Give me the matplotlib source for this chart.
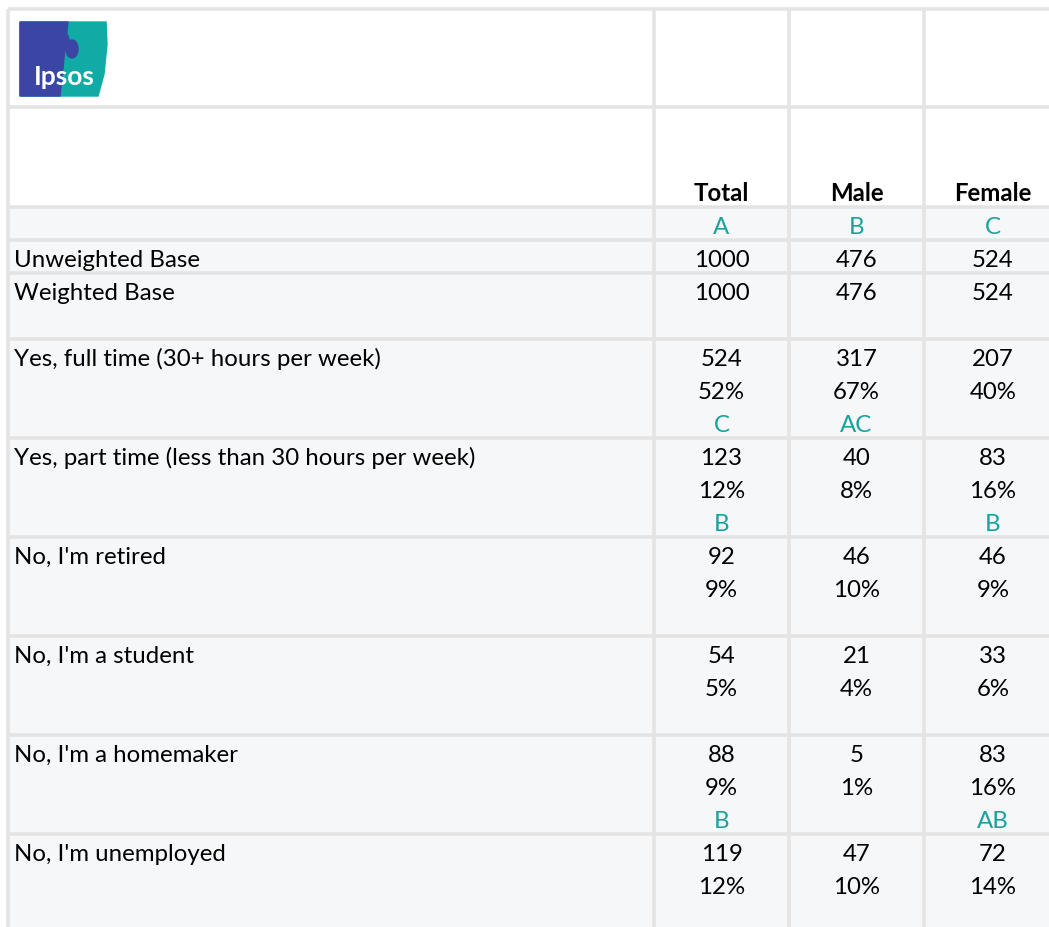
import matplotlib.pyplot as plt
from matplotlib.patches import Rectangle, Polygon, Ellipse

# table data
columns = ['Total', 'Male', 'Female']
col_letters = ['A', 'B', 'C']
unweighted_base = [1000, 476, 524]
weighted_base = [1000, 476, 524]
row_labels = [
    'Yes, full time (30+ hours per week)',
    'Yes, part time (less than 30 hours per week)',
    "No, I'm retired",
    "No, I'm a student",
    "No, I'm a homemaker",
    "No, I'm unemployed",
]
counts = [[524, 317, 207], [123, 40, 83], [92, 46, 46],
          [54, 21, 33], [88, 5, 83], [119, 47, 72]]
pcts = [[52, 67, 40], [12, 8, 16], [9, 10, 9],
        [5, 4, 6], [9, 1, 16], [12, 10, 14]]
sig = [['C', 'AC', ''], ['B', '', 'B'], ['', '', ''],
       ['', '', ''], ['B', '', 'AB'], ['', '', '']]

teal = '#17A39B'
grid = '#E4E4E4'
shade = '#F6F7F9'
plt.rcParams['font.family'] = ['Lato', 'DejaVu Sans']
fs = 17.3

fig = plt.figure(figsize=(10.49, 9.28), dpi=100)
ax = fig.add_axes([0, 0, 1, 1])
ax.set_xlim(0, 1049)
ax.set_ylim(928, 0)
ax.axis('off')

# layout (pixels)
xs = [8, 654, 789, 924, 1062]
centers = [(xs[i] + xs[i + 1]) / 2 for i in range(1, 4)]
row_edges = [10, 108, 208, 241, 274, 340]
for i in range(len(row_labels)):
    row_edges.append(row_edges[-1] + 99)
lh = 33
base = 26  # baseline offset from row top

# background
ax.add_patch(Rectangle((xs[0], 10), 1062 - xs[0], 198, color='white', zorder=0))
ax.add_patch(Rectangle((xs[0], 208), 1062 - xs[0], 928 - 208, color=shade, zorder=0))

# grid lines
for y in row_edges:
    ax.plot([xs[0], 1062], [y, y], color=grid, lw=2.6, zorder=1, solid_capstyle='butt')
for x in xs:
    ax.plot([x, x], [10, 940], color=grid, lw=2.6, zorder=1, solid_capstyle='butt')

# logo
ax.add_patch(Polygon([(20, 23), (106, 23), (107, 45), (104, 75), (98, 97), (20, 97)],
                     closed=True, color='#10ABA4', zorder=2))
ax.add_patch(Polygon([(20, 23), (68, 23), (66, 40), (60, 97), (20, 97)],
                     closed=True, color='#3A45A4', zorder=2))
ax.add_patch(Ellipse((58, 42), 22, 24, color='#3A45A4', zorder=2))
ax.add_patch(Ellipse((72, 50), 12, 18, color='#3A45A4', zorder=2))
ax.text(64, 85, 'Ipsos', color='white', fontsize=19, fontweight='bold',
        ha='center', va='baseline', zorder=3)

# header
for c, name, let in zip(centers, columns, col_letters):
    ax.text(c, 201, name, fontsize=fs, fontweight='bold', ha='center', va='baseline')
    ax.text(c, 208 + base, let, fontsize=fs, color=teal, ha='center', va='baseline')

ax.text(14, 241 + base, 'Unweighted Base', fontsize=fs, va='baseline')
ax.text(14, 274 + base, 'Weighted Base', fontsize=fs, va='baseline')
for c, u, w in zip(centers, unweighted_base, weighted_base):
    ax.text(c, 241 + base, str(u), fontsize=fs, ha='center', va='baseline')
    ax.text(c, 274 + base, str(w), fontsize=fs, ha='center', va='baseline')

# body rows
for r, label in enumerate(row_labels):
    top = row_edges[5 + r] + base
    ax.text(14, top, label, fontsize=fs, va='baseline')
    for j, c in enumerate(centers):
        ax.text(c, top, str(counts[r][j]), fontsize=fs, ha='center', va='baseline')
        ax.text(c, top + lh, f'{pcts[r][j]}%', fontsize=fs, ha='center', va='baseline')
        if sig[r][j]:
            ax.text(c, top + 2 * lh, sig[r][j], fontsize=fs, color=teal,
                    ha='center', va='baseline')

fig.savefig('out.png', dpi=100)
